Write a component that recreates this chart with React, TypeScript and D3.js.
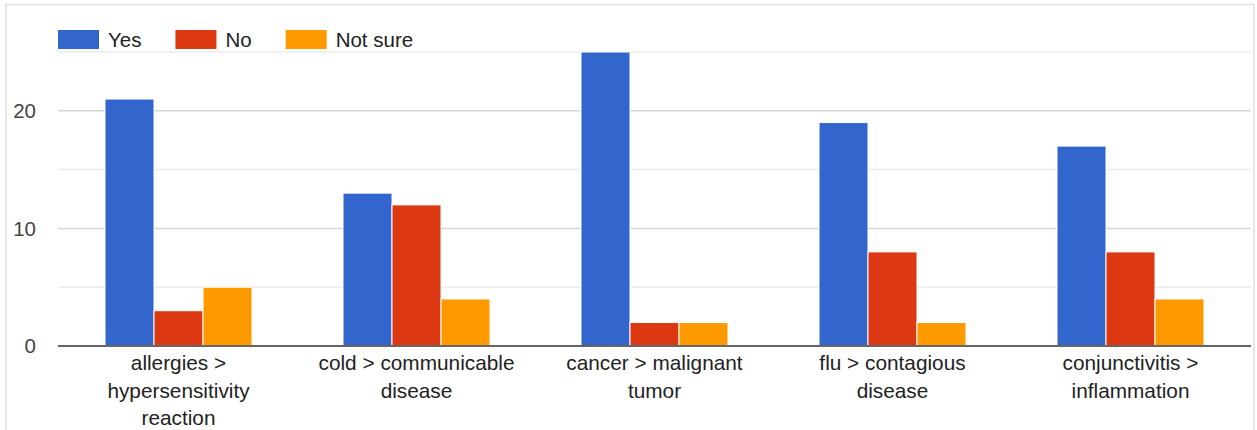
import React, { useMemo } from "react";
import * as d3 from "d3";

const categories = [
  "allergies > hypersensitivity reaction",
  "cold > communicable disease",
  "cancer > malignant tumor",
  "flu > contagious disease",
  "conjunctivitis > inflammation",
];
const seriesNames = ["Yes", "No", "Not sure"];
const yesValues = [21, 13, 25, 19, 17];
const noValues = [3, 12, 2, 8, 8];
const notSureValues = [5, 4, 2, 2, 4];
const majorTicks = [0, 10, 20];
const minorTicks = [5, 15, 25];

const colors = ["#3366cc", "#dc3912", "#ff9900"];
const FONT = "Arial, 'Liberation Sans', sans-serif";
const W = 1257;
const H = 430;
const LABEL_SIZE = 20.8;
const LEGEND_SIZE = 20.5;

function measurer(font: string) {
  const canvas = document.createElement("canvas");
  const ctx = canvas.getContext("2d")!;
  ctx.font = font;
  return (s: string) => ctx.measureText(s).width;
}

function wrapLabel(text: string, maxWidth: number, font: string): string[] {
  const measure = measurer(font);
  const words = text.split(" ");
  const lines: string[] = [];
  let cur = "";
  for (const w of words) {
    const test = cur ? cur + " " + w : w;
    if (cur && measure(test) > maxWidth) {
      lines.push(cur);
      cur = w;
    } else {
      cur = test;
    }
  }
  if (cur) lines.push(cur);
  return lines;
}

export default function App() {
  const left = 58;
  const right = 1251;
  const top = 52;
  const bottom = 346;

  const series = [yesValues, noValues, notSureValues];

  // category bands span slightly less than the gridlines
  const x0 = d3.scaleBand<string>().domain(categories).range([left, 1248]).padding(0);
  const groupW = 147;
  const x1 = d3.scaleBand<string>().domain(seriesNames).range([0, groupW]).padding(0);
  const y = d3.scaleLinear().domain([0, 25]).range([bottom, top]);

  const wrapped = useMemo(
    () => categories.map((c) => wrapLabel(c, 212, `${LABEL_SIZE}px ${FONT}`)),
    []
  );
  const legendItems = useMemo(() => {
    const measure = measurer(`${LEGEND_SIZE}px ${FONT}`);
    let cx = 58;
    return seriesNames.map((s, si) => {
      const sx = cx;
      cx = sx + 41 + 9 + measure(s) + 34;
      return { s, si, sx };
    });
  }, []);

  return (
    <svg
      width={W}
      height={H}
      style={{ position: "absolute", left: 0, top: 0, background: "#fff" }}
      fontFamily={FONT}
    >
      <rect x={6} y={4.5} width={1248} height={460} fill="#fff" stroke="#e0e0e0" strokeWidth={1.5} />

      {/* gridlines */}
      {minorTicks.map((t) => (
        <line key={"m" + t} x1={left} x2={right} y1={y(t)} y2={y(t)} stroke="#ececec" strokeWidth={1.5} />
      ))}
      {majorTicks.filter((t) => t !== 0).map((t) => (
        <line key={"g" + t} x1={left} x2={right} y1={y(t)} y2={y(t)} stroke="#d6d6d6" strokeWidth={1.5} />
      ))}

      {/* y tick labels */}
      {majorTicks.map((t) => (
        <text key={"t" + t} x={36} y={y(t)} dy="0.35em" textAnchor="end" fontSize={20.5} fill="#444">
          {t}
        </text>
      ))}

      {/* bars */}
      {categories.map((c, ci) => {
        const gx = x0(c)! + (x0.bandwidth() - groupW) / 2 + 1.5;
        return (
          <g key={c} transform={`translate(${gx},0)`}>
            {seriesNames.map((s, si) => {
              const v = series[si][ci];
              return (
                <rect
                  key={s}
                  x={x1(s)!}
                  y={y(v)}
                  width={x1.bandwidth()}
                  height={y(0) - y(v)}
                  fill={colors[si]}
                  stroke="#fff"
                  strokeWidth={1}
                />
              );
            })}
          </g>
        );
      })}

      {/* baseline */}
      <line x1={left} x2={right} y1={y(0)} y2={y(0)} stroke="#666" strokeWidth={2} />

      {/* category labels */}
      {categories.map((c, ci) => {
        const cx = x0(c)! + x0.bandwidth() / 2 + 1.5;
        return (
          <text key={"l" + c} textAnchor="middle" fontSize={LABEL_SIZE} fill="#222">
            {wrapped[ci].map((line, li) => (
              <tspan key={li} x={cx} y={370 + li * 27.5}>
                {line}
              </tspan>
            ))}
          </text>
        );
      })}

      {/* legend */}
      {legendItems.map(({ s, si, sx }) => (
        <g key={"lg" + s}>
          <rect x={sx} y={30} width={41} height={19} fill={colors[si]} />
          <text x={sx + 50} y={39.5} dy="0.35em" fontSize={LEGEND_SIZE} fill="#222">
            {s}
          </text>
        </g>
      ))}
    </svg>
  );
}
